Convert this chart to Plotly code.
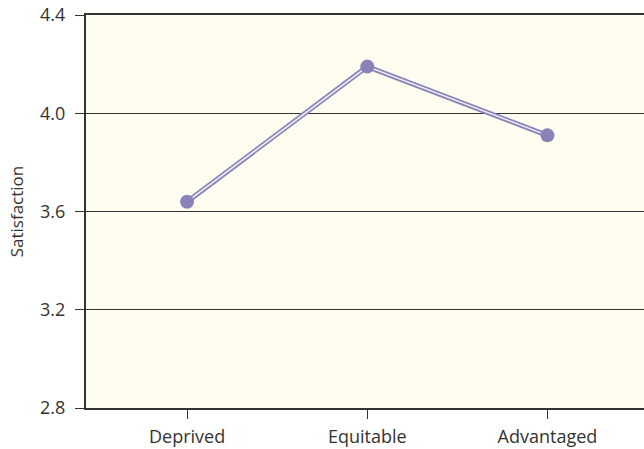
import plotly.graph_objects as go

categories = ["Deprived", "Equitable", "Advantaged"]
satisfaction = [3.64, 4.19, 3.91]
y_ticks = [2.8, 3.2, 3.6, 4.0, 4.4]
y_tick_labels = ["2.8", "3.2", "3.6", "4.0", "4.4"]

xpos = list(range(len(categories)))
purple = "#8a82b8"
ink = "#333333"
font_family = "Open Sans, Noto Sans, sans-serif"

fig = go.Figure()
fig.add_trace(go.Scatter(x=xpos, y=satisfaction, mode="lines",
                         line=dict(color=purple, width=5), hoverinfo="skip"))
fig.add_trace(go.Scatter(x=xpos, y=satisfaction, mode="lines",
                         line=dict(color="#f2f0fa", width=1.5), hoverinfo="skip"))
fig.add_trace(go.Scatter(x=xpos, y=satisfaction, mode="markers",
                         marker=dict(color=purple, size=14, line=dict(width=0))))

fig.update_layout(
    width=644, height=449,
    margin=dict(l=86, r=0, t=15, b=41),
    paper_bgcolor="white",
    plot_bgcolor="#fefdf0",
    showlegend=False,
    font=dict(family=font_family, size=18, color=ink),
)
fig.update_xaxes(
    range=[-0.561, 2.536],
    tickvals=xpos, ticktext=categories,
    ticks="outside", ticklen=9, tickcolor=ink, tickwidth=1,
    showgrid=False, zeroline=False,
    showline=True, linecolor=ink, linewidth=2, mirror=True,
    tickfont=dict(size=18, color=ink),
    ticklabelstandoff=2,
)
fig.update_yaxes(
    range=[2.8, 4.4],
    tickvals=y_ticks, ticktext=y_tick_labels,
    ticks="outside", ticklen=9, tickcolor=ink, tickwidth=1,
    showgrid=True, gridcolor=ink, gridwidth=1,
    zeroline=False,
    showline=True, linecolor=ink, linewidth=2,
    title=dict(text="Satisfaction", font=dict(size=17, color=ink), standoff=12),
    tickfont=dict(size=18, color=ink),
    ticklabelstandoff=6,
)

fig.write_html("out.html", config={"displayModeBar": False},
               post_script="document.body.style.margin='0px';document.body.style.overflow='hidden';")
